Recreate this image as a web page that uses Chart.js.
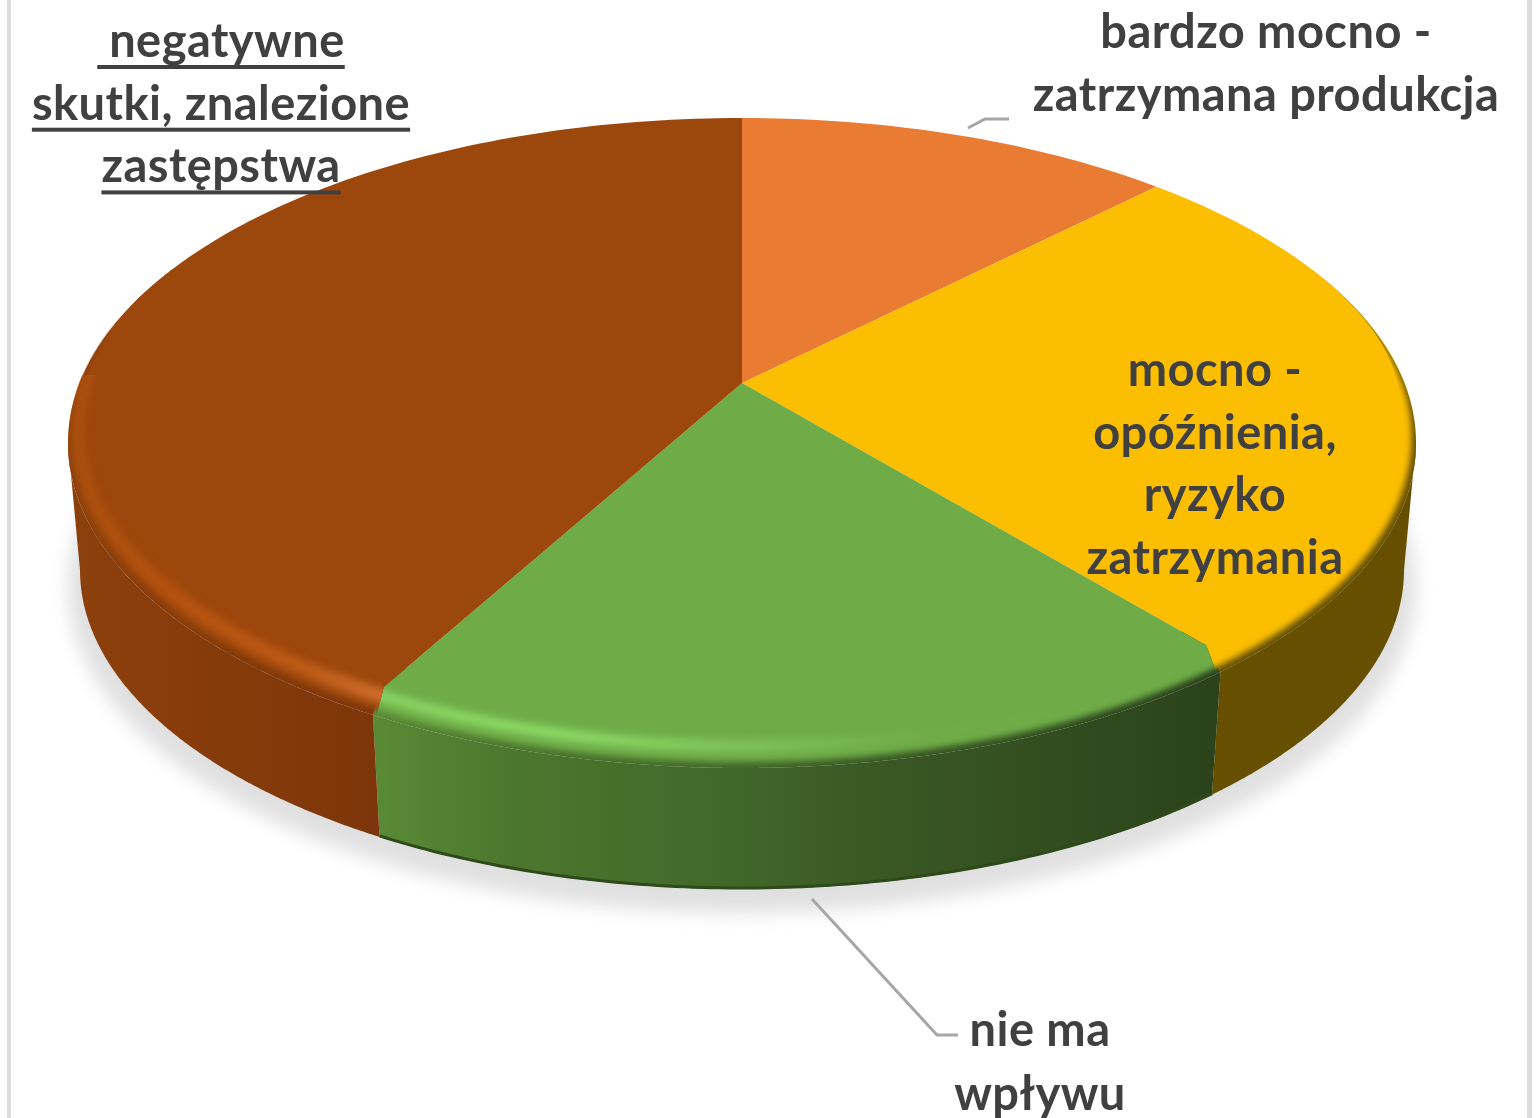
<!DOCTYPE html>
<html lang="pl">
<head>
<meta charset="utf-8">
<title>Wpływ na produkcję</title>
<script src="https://cdn.jsdelivr.net/npm/chart.js@4/dist/chart.umd.min.js"></script>
<style>
html,body{margin:0;padding:0;background:#fff;}
#wrap{position:absolute;left:0;top:0;width:1538px;height:1118px;overflow:hidden;}
canvas{display:block;filter:blur(0.6px);}
</style>
</head>
<body>
<div id="wrap"><canvas id="c" width="1538" height="1118"></canvas></div>
<script>
const categories = ["bardzo mocno - zatrzymana produkcja", "mocno - opóźnienia, ryzyko zatrzymania", "nie ma wpływu", "negatywne skutki, znalezione zastępstwa"];
const values = [12.5, 26.4, 19.2, 41.9];
const labelLines = [
  ["bardzo mocno -", "zatrzymana produkcja"],
  ["mocno -", "opóźnienia,", "ryzyko", "zatrzymania"],
  ["nie ma", "wpływu"],
  [" negatywne", "skutki, znalezione", "zastępstwa"]
];
const topColors = ["#E97B32", "#FBBE00", "#6FAC48", "#9C470C"];

const W = 1538, H = 1118;
const HUB = {x: 742, y: 383};
const OUTER = {cx: 742, cy: 443, rx: 674, ry: 325};
const MID = {cx: 742, cy: 440, rx: 669, ry: 322};
const INNER = {cx: 742, cy: 425, rx: 654, ry: 313};
const HILITE = {cx: 742, cy: 432, rx: 664, ry: 314};
const BOTTOM = {cx: 742, cy: 570, rx: 662, ry: 319};
const PA = 309.9, PB = -0.1693, PC = 654.4;
const TAU = Math.PI * 2, DEG = Math.PI / 180;

function rimPoint(theta) {
  const x = Math.sin(theta), y = -Math.cos(theta), d = 1 + PB * y;
  return {X: PC * x / d, S: PA * y / d};
}
function screenAngle(theta) {
  if (theta <= 1e-6) return 0;
  if (theta >= TAU - 1e-6) return TAU;
  const p = rimPoint(theta);
  let a = Math.atan2(p.X, -p.S);
  if (a < 0) a += TAU;
  return a;
}
function rayParam(phi) {
  if (phi <= 1e-6) return 0;
  if (phi >= TAU - 1e-6) return TAU;
  const dx = Math.sin(phi), dy = -Math.cos(phi);
  const ox = (HUB.x - INNER.cx) / INNER.rx, oy = (HUB.y - INNER.cy) / INNER.ry;
  const ux = dx / INNER.rx, uy = dy / INNER.ry;
  const a = ux * ux + uy * uy, b = 2 * (ox * ux + oy * uy), c = ox * ox + oy * oy - 1;
  const u = (-b + Math.sqrt(b * b - 4 * a * c)) / (2 * a);
  let t = Math.atan2(ox + u * ux, -(oy + u * uy));
  if (t < 0) t += TAU;
  return t;
}
function ePt(E, t) { return [E.cx + E.rx * Math.sin(t), E.cy - E.ry * Math.cos(t)]; }
function blendW(t) {
  let a = t % TAU; if (a < 0) a += TAU;
  if (a > Math.PI) a = TAU - a;
  const k = Math.min(1, Math.max(0, (a - 55 * DEG) / (45 * DEG)));
  return k * k * (3 - 2 * k);
}
function blended(E) {
  return {pt(t) {
    const w = blendW(t), o = ePt(OUTER, t), e = ePt(E, t);
    return [o[0] + (e[0] - o[0]) * w, o[1] + (e[1] - o[1]) * w];
  }};
}
const asCurve = E => ({pt: t => ePt(E, t)});
const RIM = blended(MID);
const SURF = blended(INNER);
const SURF_OVER = blended({cx: 742, cy: 425, rx: 657, ry: 316});
const OUTC = asCurve(OUTER), BOTC = asCurve(BOTTOM);
const SOFT = blended({cx: 742, cy: 415, rx: 640, ry: 298});
const REACH = blended({cx: 742, cy: 443, rx: 674, ry: 342});

// inner edge of a slice's rim area: meets the slice's own radial edges at its two ends
function innerEdge(t0, t1) {
  return {pt(t) {
    const k = Math.min(1, Math.min(t - t0, t1 - t) / 0.05);
    const a = SURF.pt(t), b = SOFT.pt(t);
    return [a[0] + (b[0] - a[0]) * k, a[1] + (b[1] - a[1]) * k];
  }};
}

function band(ctx, A, B, t0, t1) {
  const n = 200;
  ctx.beginPath();
  for (let i = 0; i <= n; i++) {
    const p = A.pt(t0 + (t1 - t0) * i / n);
    if (i) ctx.lineTo(p[0], p[1]); else ctx.moveTo(p[0], p[1]);
  }
  for (let i = n; i >= 0; i--) {
    const p = B.pt(t0 + (t1 - t0) * i / n);
    ctx.lineTo(p[0], p[1]);
  }
  ctx.closePath();
}
function loop(ctx, C) {
  const n = 360;
  ctx.beginPath();
  for (let i = 0; i < n; i++) {
    const p = C.pt(TAU * i / n);
    if (i) ctx.lineTo(p[0], p[1]); else ctx.moveTo(p[0], p[1]);
  }
  ctx.closePath();
}
function hgrad(ctx, stops) {
  const g = ctx.createLinearGradient(0, 0, W, 0);
  stops.forEach(s => g.addColorStop(s[0] / W, s[1]));
  return g;
}
function wallFill(ctx, i) {
  if (i === 0) return "#E97B32";
  if (i === 1) return "#665000";
  if (i === 2) return hgrad(ctx, [[375, "#5a8a35"], [500, "#4d782e"], [742, "#41662a"], [860, "#3a5a24"], [1218, "#2b421b"]]);
  return hgrad(ctx, [[70, "#8c400c"], [250, "#853a0a"], [378, "#7d360a"]]);
}
function hiliteStroke(ctx, i) {
  if (i === 2) return hgrad(ctx, [[372, "#8cd866"], [560, "#90e068"], [760, "#80c45c"], [920, "#70ad47"], [1218, "#6FAC48"]]);
  if (i === 3) return hgrad(ctx, [[68, "#a94f0e"], [160, "#b5520f"], [300, "#bf5b16"], [378, "#d06f2e"]]);
  return null;
}

const pie3d = {
  id: "pie3d",
  afterDatasetsUpdate(chart) {
    chart.getDatasetMeta(0).data.forEach(arc => {
      const th0 = arc.startAngle + Math.PI / 2, th1 = arc.endAngle + Math.PI / 2;
      const s0 = screenAngle(th0), s1 = screenAngle(th1);
      arc.$t0 = rayParam(s0);
      arc.$t1 = rayParam(s1);
      arc.startAngle = s0 - Math.PI / 2;
      arc.endAngle = s1 - Math.PI / 2;
      arc.circumference = s1 - s0;
    });
  },
  beforeDatasetsDraw(chart) {
    const ctx = chart.ctx;
    ctx.save();
    ctx.fillStyle = "#fff";
    ctx.fillRect(0, 0, W, H);
    ctx.fillStyle = "#dcdcdc";
    ctx.fillRect(7, 0, 4, H);
    ctx.fillRect(1527, 0, 5, H);
    ctx.filter = "blur(9px)";
    ctx.fillStyle = "#e0e0e0";
    ctx.beginPath();
    ctx.ellipse(742, 587, 674, 326, 0, 0, TAU);
    ctx.fill();
    ctx.filter = "none";
    const arcs = chart.getDatasetMeta(0).data;
    arcs.forEach((arc, i) => {
      const f = wallFill(ctx, i);
      ctx.fillStyle = f;
      const a = Math.max(arc.$t0, 90 * DEG), b = Math.min(arc.$t1, 270 * DEG);
      if (b > a) { band(ctx, OUTC, BOTC, a, b); ctx.fill(); }
      const c = Math.max(arc.$t0, 50 * DEG), d = Math.min(arc.$t1, 310 * DEG);
      if (d > c) { band(ctx, OUTC, SOFT, c, d); ctx.fill(); }
    });
    const g = arcs[2];
    ctx.strokeStyle = "#2e4a1a";
    ctx.lineWidth = 3;
    ctx.beginPath();
    for (let i = 0; i <= 100; i++) {
      const p = ePt({cx: BOTTOM.cx, cy: BOTTOM.cy - 1, rx: BOTTOM.rx, ry: BOTTOM.ry}, g.$t0 + (g.$t1 - g.$t0) * i / 100);
      if (i) ctx.lineTo(p[0], p[1]); else ctx.moveTo(p[0], p[1]);
    }
    ctx.stroke();
    ctx.restore();
    ctx.save();
    loop(ctx, SURF_OVER);
    ctx.clip();
  },
  afterDatasetsDraw(chart) {
    const ctx = chart.ctx;
    ctx.restore();
    const arcs = chart.getDatasetMeta(0).data;
    arcs.forEach((arc, i) => {
      ctx.save();
      band(ctx, innerEdge(arc.$t0, arc.$t1), REACH, arc.$t0, arc.$t1);
      ctx.clip();
      ctx.filter = "blur(3px)";
      ctx.fillStyle = topColors[i];
      band(ctx, SOFT, RIM, arc.$t0 - 0.08, arc.$t1 + 0.08);
      ctx.fill();
      const h = hiliteStroke(ctx, i);
      if (h) {
        ctx.beginPath();
        ctx.rect(0, 375, W, H);
        ctx.clip();
        ctx.filter = "blur(4px)";
        ctx.strokeStyle = h;
        ctx.lineWidth = i === 3 ? 14 : 10;
        ctx.beginPath();
        ctx.ellipse(HILITE.cx, HILITE.cy, HILITE.rx, HILITE.ry, 0, 0, TAU);
        ctx.stroke();
      }
      ctx.restore();
    });
    ctx.save();
    ctx.strokeStyle = "#a6a6a6";
    ctx.lineWidth = 3;
    ctx.beginPath();
    ctx.moveTo(968, 128); ctx.lineTo(985, 119); ctx.lineTo(1009, 119);
    ctx.moveTo(812, 899); ctx.lineTo(937, 1035); ctx.lineTo(958, 1035);
    ctx.stroke();
    ctx.restore();
    const anchors = [
      {x: 1266, y: 48, step: 63, underline: false},
      {x: 1215, y: 386, step: 62.7, underline: false},
      {x: 1040, y: 1046, step: 64, underline: false},
      {x: 221, y: 57, step: 62.7, underline: true}
    ];
    ctx.save();
    ctx.font = "bold 47px Lato, 'Open Sans', sans-serif";
    ctx.letterSpacing = "0.45px";
    ctx.fillStyle = "#404040";
    ctx.textAlign = "center";
    ctx.textBaseline = "alphabetic";
    labelLines.forEach((lines, i) => {
      const a = anchors[i];
      lines.forEach((line, k) => {
        const y = a.y + a.step * k;
        ctx.fillText(line, a.x, y);
        if (a.underline) {
          const w = ctx.measureText(line).width;
          ctx.fillRect(a.x - w / 2, y + 8, w, 4);
        }
      });
    });
    ctx.restore();
  }
};

new Chart(document.getElementById("c"), {
  type: "pie",
  data: {
    labels: categories,
    datasets: [{
      data: values,
      backgroundColor: topColors,
      borderWidth: 0,
      radius: 1500
    }]
  },
  options: {
    responsive: false,
    animation: false,
    radius: 1500,
    events: [],
    layout: {padding: {left: 0, top: 0, right: W - 2 * HUB.x, bottom: H - 2 * HUB.y}},
    plugins: {legend: {display: false}, tooltip: {enabled: false}, title: {display: false}}
  },
  plugins: [pie3d]
});
</script>
</body>
</html>
